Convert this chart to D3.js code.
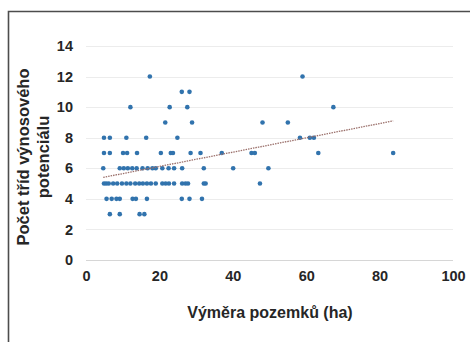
<!DOCTYPE html>
<html>
<head>
<meta charset="utf-8">
<script src="https://cdn.jsdelivr.net/npm/d3@7"></script>
<style>
  html, body { margin: 0; padding: 0; background: #fff; }
  svg { display: block; font-family: "Liberation Sans", Arial, sans-serif; }
</style>
</head>
<body>
<svg id="chart" width="470" height="342"></svg>
<script>
// Plot area (ha) of each parcel and its number of yield-potential classes
const areaHa = [
  17.4, 59.0,
  26.1, 28.2,
  12.1, 22.8, 27.6, 67.4,
  21.6, 28.9, 48.1, 55.0,
  4.9, 6.5, 11.0, 16.4, 24.9, 58.3, 61.0, 62.1,
  4.9, 6.5, 10.1, 11.2, 13.9, 20.4, 23.1, 23.7, 28.5, 31.2, 37.0, 45.1, 46.0, 63.3, 83.7,
  4.7, 9.2, 10.3, 11.4, 12.6, 13.8, 15.4, 16.8, 18.1, 19.0, 20.8, 22.5, 24.0, 26.2, 32.1, 40.1, 49.7,
  4.9, 5.5, 6.2, 7.4, 8.5, 9.8, 11.0, 12.1, 13.4, 14.5, 15.5, 16.6, 17.7, 19.0, 20.8, 21.7, 22.6, 24.0, 26.2, 27.1, 27.8, 32.1, 32.6, 47.4,
  5.6, 7.0, 8.3, 9.2, 12.7, 13.6, 16.6, 26.1, 28.2, 31.6,
  6.5, 9.2, 14.6, 15.9
];
const classCount = [
  12, 12,
  11, 11,
  10, 10, 10, 10,
  9, 9, 9, 9,
  8, 8, 8, 8, 8, 8, 8, 8,
  7, 7, 7, 7, 7, 7, 7, 7, 7, 7, 7, 7, 7, 7, 7,
  6, 6, 6, 6, 6, 6, 6, 6, 6, 6, 6, 6, 6, 6, 6, 6, 6,
  5, 5, 5, 5, 5, 5, 5, 5, 5, 5, 5, 5, 5, 5, 5, 5, 5, 5, 5, 5, 5, 5, 5, 5,
  4, 4, 4, 4, 4, 4, 4, 4, 4, 4,
  3, 3, 3, 3
];
const xTicks = [0, 20, 40, 60, 80, 100];
const yTicks = [0, 2, 4, 6, 8, 10, 12, 14];
const xTitle = "Výměra pozemků (ha)";
const yTitleLines = ["Počet tříd výnosového", "potenciálu"];

const points = areaHa.map((x, i) => ({ x, y: classCount[i] }));

const svg = d3.select("#chart");
const x = d3.scaleLinear().domain([0, 100]).range([86, 453]);
const y = d3.scaleLinear().domain([0, 14]).range([260, 46]);

const labelFont = "Liberation Sans, Arial, sans-serif";
const textColor = "#262626";

// outer frame (top and left edges)
svg.append("path")
  .attr("d", "M8.5,342 L8.5,11.5 L470,11.5")
  .attr("fill", "none")
  .attr("stroke", "#4d4d4d")
  .attr("stroke-width", 1.6);

// horizontal gridlines
svg.append("g")
  .selectAll("line")
  .data(yTicks)
  .join("line")
  .attr("x1", x(0)).attr("x2", x(100))
  .attr("y1", d => Math.round(y(d)) + 0.5)
  .attr("y2", d => Math.round(y(d)) + 0.5)
  .attr("stroke", d => d === 0 ? "#d6d6d6" : "#ececec")
  .attr("stroke-width", 1);

// y axis labels
const yAxis = d3.axisLeft(y).tickValues(yTicks).tickSize(0).tickPadding(0).tickFormat(d3.format("d"));
svg.append("g")
  .attr("transform", `translate(73,0)`)
  .call(yAxis)
  .call(g => g.select(".domain").remove())
  .call(g => g.selectAll("text")
    .attr("font-size", 14.5).attr("font-weight", "bold").attr("fill", textColor)
    .attr("font-family", labelFont));

// x axis labels
const xAxis = d3.axisBottom(x).tickValues(xTicks).tickSize(0).tickPadding(0).tickFormat(d3.format("d"));
svg.append("g")
  .attr("transform", `translate(0,271)`)
  .call(xAxis)
  .call(g => g.select(".domain").remove())
  .call(g => g.selectAll("text")
    .attr("font-size", 14.5).attr("font-weight", "bold").attr("fill", textColor)
    .attr("font-family", labelFont));

// axis titles
svg.append("text")
  .attr("x", 270).attr("y", 318)
  .attr("text-anchor", "middle")
  .attr("font-size", 16).attr("font-weight", "bold").attr("fill", textColor)
  .text(xTitle);

svg.append("g")
  .attr("transform", "translate(0,157) rotate(-90)")
  .selectAll("text")
  .data(yTitleLines)
  .join("text")
  .attr("x", 0)
  .attr("y", (d, i) => 29 + i * 20)
  .attr("text-anchor", "middle")
  .attr("font-size", 16.5).attr("font-weight", "bold").attr("fill", textColor)
  .text(d => d);

// scatter points
svg.append("g")
  .selectAll("circle")
  .data(points)
  .join("circle")
  .attr("cx", d => x(d.x))
  .attr("cy", d => y(d.y))
  .attr("r", 2.3)
  .attr("fill", "#3173ad");

// least-squares trend line over the observed range
const mx = d3.mean(points, d => d.x);
const my = d3.mean(points, d => d.y);
const slope = d3.sum(points, d => (d.x - mx) * (d.y - my)) / d3.sum(points, d => (d.x - mx) ** 2);
const intercept = my - slope * mx;
const [xmin, xmax] = d3.extent(points, d => d.x);
svg.append("line")
  .attr("x1", x(xmin)).attr("y1", y(intercept + slope * xmin))
  .attr("x2", x(xmax)).attr("y2", y(intercept + slope * xmax))
  .attr("stroke", "#9a6f6a")
  .attr("stroke-width", 1.3)
  .attr("stroke-dasharray", "1.5,1");
</script>
</body>
</html>
